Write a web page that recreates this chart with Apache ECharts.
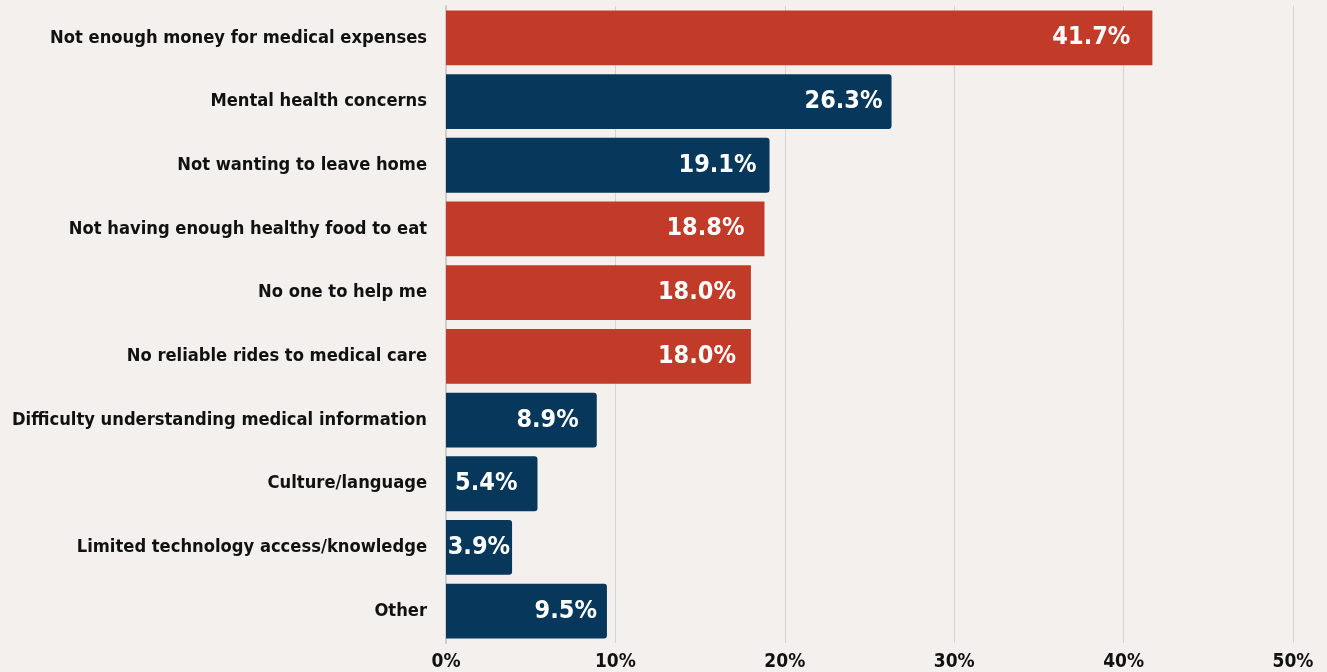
<!DOCTYPE html>
<html>
<head>
<meta charset="utf-8">
<script src="https://cdn.jsdelivr.net/npm/echarts@6/dist/echarts.min.js"></script>
<style>
  html, body { margin: 0; padding: 0; background: #f3f0ed; }
  #chart { width: 1327px; height: 672px; }
</style>
</head>
<body>
<div id="chart"></div>
<script>
// Barriers to care, share of respondents (%)
const categories = [
  'Not enough money for medical expenses',
  'Mental health concerns',
  'Not wanting to leave home',
  'Not having enough healthy food to eat',
  'No one to help me',
  'No reliable rides to medical care',
  'Difficulty understanding medical information',
  'Culture/language',
  'Limited technology access/knowledge',
  'Other'
];
const values = [41.7, 26.3, 19.1, 18.8, 18.0, 18.0, 8.9, 5.4, 3.9, 9.5];
// Rows drawn in the accent colour
const highlighted = [true, false, false, true, true, true, false, false, false, false];
const xTicks = [0, 10, 20, 30, 40, 50];

const RED = '#c13b28';
const NAVY = '#07375a';
const FONT = "'Liberation Sans Narrow', 'DejaVu Sans Condensed', 'Arial Narrow', sans-serif";

// Gap between a value label and the end of its bar
const labelGap = [22, 9, 13, 20, 15, 15, 18, 20, 2, 10];

const chart = echarts.init(document.getElementById('chart'));
chart.setOption({
  backgroundColor: '#f3f0ed',
  animation: false,
  grid: { left: 446, right: 34, top: 6, bottom: 29, outerBoundsMode: 'none', containLabel: false },
  xAxis: {
    type: 'value',
    min: xTicks[0],
    max: xTicks[xTicks.length - 1],
    interval: 10,
    axisLine: { show: false },
    axisTick: { show: false },
    splitLine: { show: true, lineStyle: { color: '#d6d3d0', width: 1 } },
    axisLabel: {
      formatter: v => v + '%',
      color: '#111',
      fontFamily: FONT,
      fontWeight: 'bold',
      fontSize: 19,
      margin: 10,
      verticalAlign: 'top'
    }
  },
  yAxis: {
    type: 'category',
    data: categories,
    inverse: true,
    axisLine: { show: true, lineStyle: { color: '#cfccc9', width: 2 } },
    axisTick: { show: false },
    axisLabel: {
      color: '#111',
      fontFamily: FONT,
      fontWeight: 'bold',
      fontSize: 18.2,
      margin: 19,
      padding: [0, 0, 8, 0]
    }
  },
  series: [{
    type: 'bar',
    barCategoryGap: '14%',
    data: values.map((v, i) => ({
      value: v,
      itemStyle: {
        color: highlighted[i] ? RED : NAVY,
        borderRadius: highlighted[i] ? 0 : [0, 3, 3, 0]
      },
      label: { distance: labelGap[i] }
    })),
    label: {
      show: true,
      position: 'insideRight',
      formatter: p => p.value.toFixed(1) + '%',
      color: '#fff',
      fontFamily: FONT,
      fontWeight: 'bold',
      fontSize: 25,
      padding: [0, 0, 6, 0]
    }
  }]
});
</script>
</body>
</html>
